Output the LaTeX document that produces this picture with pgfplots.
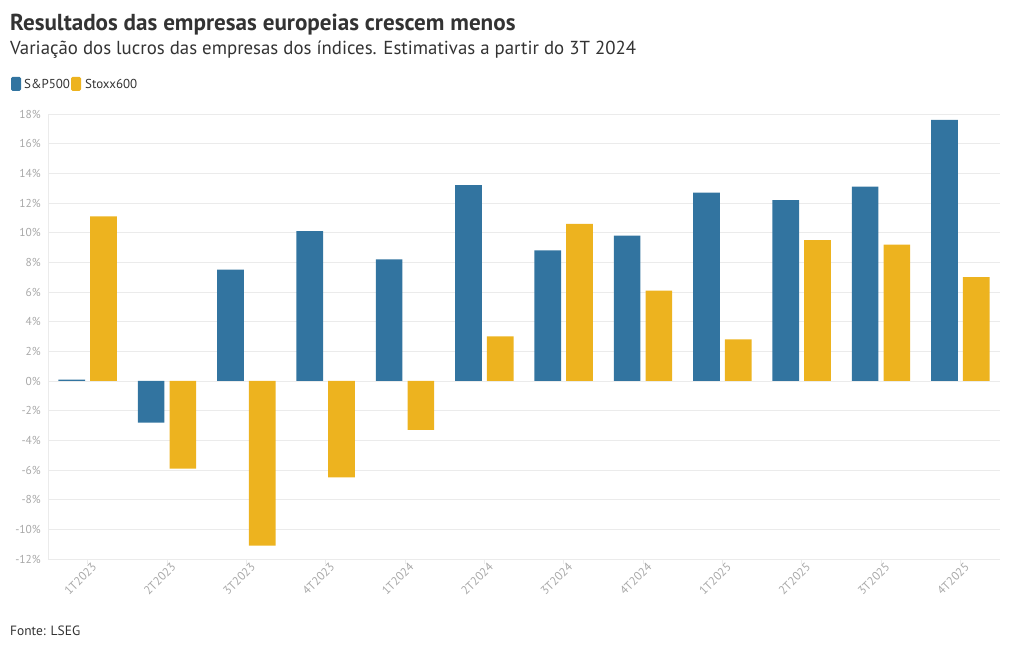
\documentclass[border=0pt]{standalone}
\usepackage{pgfplots}
\pgfplotsset{compat=1.18}
\usepackage{fontspec}
\setmainfont{PT Sans}
\definecolor{spblue}{HTML}{3274A0}
\definecolor{stxyellow}{HTML}{EDB31F}
\definecolor{txt}{HTML}{333333}
\definecolor{ticktxt}{HTML}{A8A8A8}
\definecolor{gridc}{HTML}{EBEBEB}
\begin{document}
\begin{tikzpicture}[x=1bp,y=1bp]
\path[use as bounding box] (0,0) rectangle (1020,650);
\node[anchor=base west, inner sep=0, text=txt, font=\bfseries\fontsize{23.2}{27}\selectfont] at (10,619) {Resultados das empresas europeias crescem menos};
\node[anchor=base west, inner sep=0, text=txt, font=\fontsize{18.9}{22}\selectfont] at (10,595) {Variação dos lucros das empresas dos índices. Estimativas a partir do 3T 2024};
\fill[spblue, rounded corners=1.5bp] (11,559) rectangle (21,573);
\node[anchor=base west, inner sep=0, text=txt, font=\fontsize{13}{15}\selectfont] at (24,561) {S\&P500};
\fill[stxyellow, rounded corners=1.5bp] (71,559) rectangle (81,573);
\node[anchor=base west, inner sep=0, text=txt, font=\fontsize{13}{15}\selectfont] at (85,561) {Stoxx600};
\node[anchor=base west, inner sep=0, text=txt, font=\fontsize{13.5}{16}\selectfont] at (10,14) {Fonte: LSEG};
\begin{axis}[
  at={(48bp,91bp)}, anchor=south west,
  scale only axis, width=952bp, height=445bp,
  xmin=-0.5, xmax=11.5, ymin=-12, ymax=18,
  ytick={-12,-10,...,18},
  yticklabel={\pgfmathprintnumber{\tick}\%},
  xtick={0,...,11},
  xticklabels={1T2023,2T2023,3T2023,4T2023,1T2024,2T2024,3T2024,4T2024,1T2025,2T2025,3T2025,4T2025},
  /pgf/number format/assume math mode=true,
  axis x line*=bottom, axis y line*=left,
  axis line style={draw=gridc, line width=0.8bp},
  ymajorgrids, grid style={draw=gridc, line width=0.8bp},
  ytick style={draw=none},
  xtick style={draw=gridc, line width=0.8bp},
  tick align=outside, major tick length=5bp,
  yticklabel style={font=\fontsize{11.5}{13}\selectfont, text=ticktxt, inner sep=2bp},
  xticklabel style={font=\fontsize{12}{14}\selectfont, text=ticktxt, rotate=45, anchor=north east, inner sep=1bp, xshift=5bp},
  clip=false,
]
\addplot[ybar, bar width=0.336, bar shift=-0.2, fill=spblue, draw=none] coordinates {
(0,0.1) (1,-2.8) (2,7.5) (3,10.1) (4,8.2) (5,13.2) (6,8.8) (7,9.8) (8,12.7) (9,12.2) (10,13.1) (11,17.6)};
\addplot[ybar, bar width=0.336, bar shift=0.2, fill=stxyellow, draw=none] coordinates {
(0,11.1) (1,-5.9) (2,-11.1) (3,-6.5) (4,-3.3) (5,3.0) (6,10.6) (7,6.1) (8,2.8) (9,9.5) (10,9.2) (11,7.0)};
\end{axis}
\end{tikzpicture}
\end{document}
